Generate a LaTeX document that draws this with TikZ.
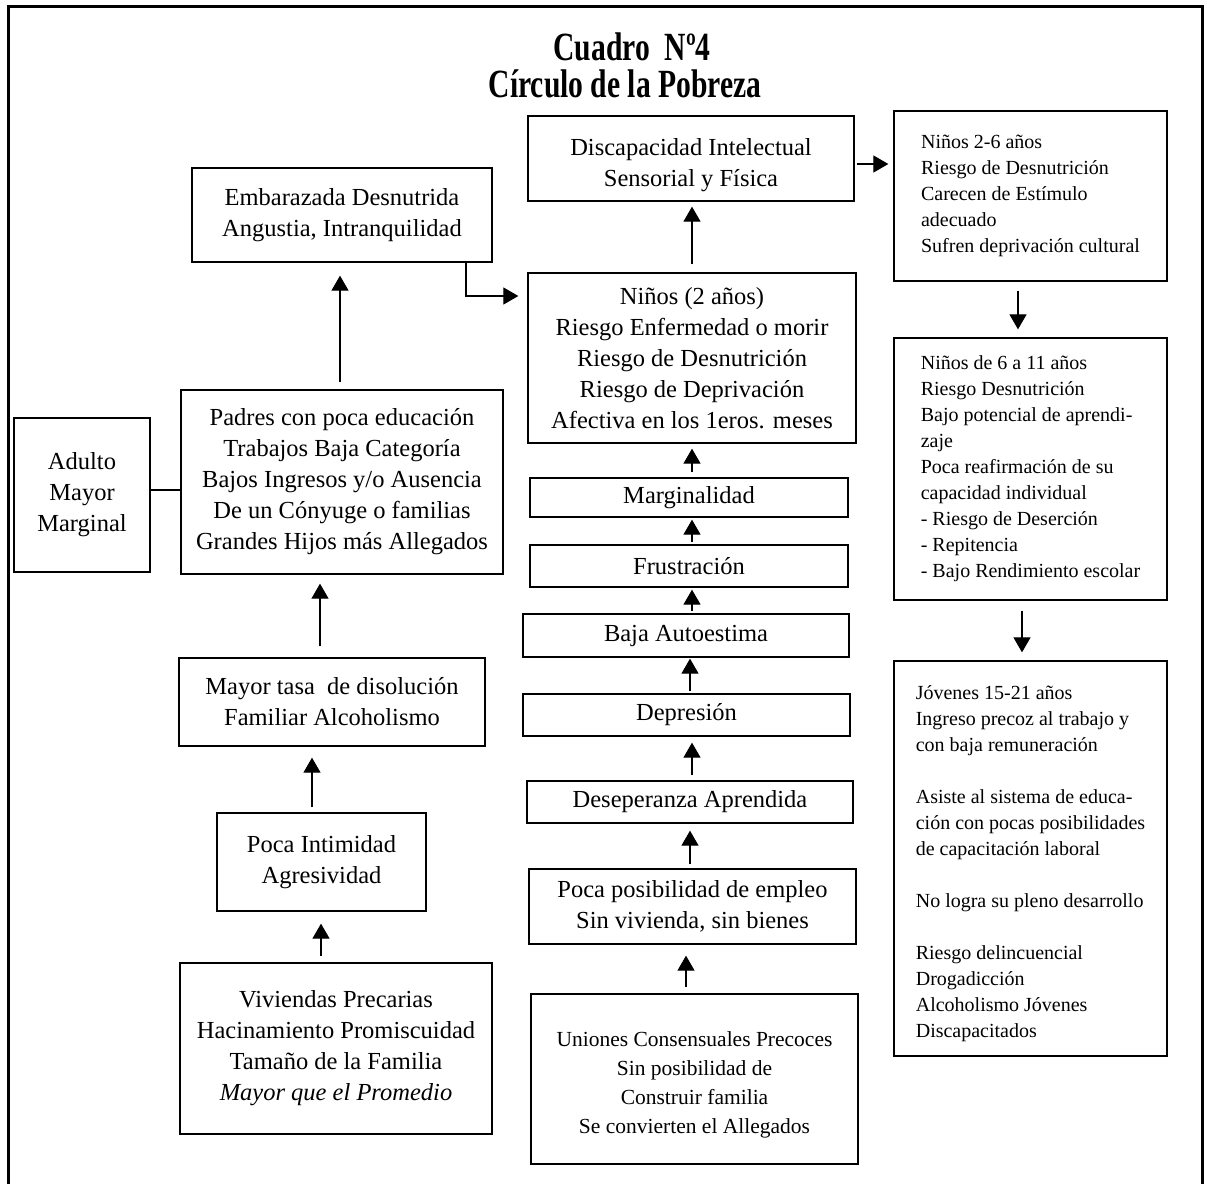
\documentclass[tikz,border=0pt]{standalone}
\usepackage{fontspec}
\usepackage{graphicx}
\setmainfont{Liberation Serif}
\usetikzlibrary{arrows.meta}
\newcommand{\MyBig}{\fontsize{24.5}{31}\selectfont}
\newcommand{\MyMid}{\fontsize{21.5}{29}\selectfont}
\newcommand{\MySmall}{\fontsize{20}{26}\selectfont}
\newcommand{\MyTitle}{\fontsize{40}{44}\selectfont\bfseries}
\begin{document}
\begin{tikzpicture}[x=1pt,y=-1pt,
  box/.style={draw, line width=1.3pt, inner sep=0pt, align=center, font=\MyBig},
  rbox/.style={draw, line width=1.3pt, inner sep=0pt, align=left, font=\MySmall, minimum width=273pt},
  arr/.style={line width=1.2pt, -{Triangle[length=15pt,width=17pt]}},
  link/.style={line width=1.2pt},
  ttl/.style={inner sep=0pt, anchor=base, font=\MyTitle}
]
\useasboundingbox (0,0) rectangle (1207,1183);
% outer frame
\draw[line width=3pt] (8,1190) -- (8,6) -- (1202,6) -- (1202,1190);

% titles
\node[ttl] (t1) at (632,60) {\scalebox{0.74}[1]{Cuadro\ \ Nº4}};
\node[ttl] (t2) at (625,97) {\scalebox{0.74}[1]{Círculo de la Pobreza}};

% middle column
\node[box, minimum width=326pt, minimum height=85pt] (disc) at (691,158.5) {\rule{0pt}{30pt}Discapacidad Intelectual\\Sensorial y Física};
\node[box, minimum width=328pt, minimum height=170pt] (ninos) at (692,358) {Niños (2 años)\\Riesgo Enfermedad o morir\\Riesgo de Desnutrición\\Riesgo de Deprivación\\Afectiva en los 1eros. meses};
\node[box, minimum width=318pt, minimum height=39pt] (marg) at (689,497.5) {Marginalidad};
\node[box, minimum width=318pt, minimum height=42pt] (frus) at (689,566) {Frustración};
\node[box, minimum width=326pt, minimum height=43pt] (baja) at (686,635.5) {Baja Autoestima};
\node[box, minimum width=327pt, minimum height=42pt] (depr) at (686.5,715) {Depresión};
\node[box, minimum width=326pt, minimum height=42pt] (desep) at (690,802) {Deseperanza Aprendida};
\node[box, minimum width=327pt, minimum height=75pt] (poca) at (692.5,906.5) {Poca posibilidad de empleo\\Sin vivienda, sin bienes};
\node[box, font=\MyMid, minimum width=327pt, minimum height=170pt] (union) at (694.5,1079) {\rule{0pt}{27pt}Uniones Consensuales Precoces\\Sin posibilidad de\\Construir familia\\Se convierten el Allegados};

% left column
\node[box, minimum width=300pt, minimum height=94pt] (emb) at (342,215) {Embarazada Desnutrida\\Angustia, Intranquilidad};
\node[box, minimum width=136pt, minimum height=154pt] (adulto) at (82,495) {Adulto\\Mayor\\Marginal};
\node[box, minimum width=322pt, minimum height=184pt] (padres) at (342,482) {Padres con poca educación\\Trabajos Baja Categoría\\Bajos Ingresos y/o Ausencia\\De un Cónyuge o familias\\Grandes Hijos más Allegados};
\node[box, minimum width=306pt, minimum height=88pt] (mayor) at (332,702) {Mayor tasa\ \ de disolución\\Familiar Alcoholismo};
\node[box, minimum width=209pt, minimum height=98pt] (intim) at (321.5,862) {Poca Intimidad\\Agresividad};
\node[box, minimum width=312pt, minimum height=171pt] (viv) at (336,1048.5) {Viviendas Precarias\\Hacinamiento Promiscuidad\\Tamaño de la Familia\\\textit{Mayor que el Promedio}};

% right column
\node[rbox, minimum height=170pt] (r1) at (1030.5,196) {Niños 2-6 años\\Riesgo de Desnutrición\\Carecen de Estímulo\\adecuado\\Sufren deprivación cultural};
\node[rbox, minimum height=262pt] (r2) at (1030.5,469) {Niños de 6 a 11 años\\Riesgo Desnutrición\\Bajo potencial de aprendi-\\zaje\\Poca reafirmación de su\\capacidad individual\\- Riesgo de Deserción\\- Repitencia\\- Bajo Rendimiento escolar};
\node[rbox, minimum height=395pt] (r3) at (1030.5,858.5) {\rule{0pt}{24pt}Jóvenes 15-21 años\\Ingreso precoz al trabajo y\\con baja remuneración\\[26pt]Asiste al sistema de educa-\\ción con pocas posibilidades\\de capacitación laboral\\[26pt]No logra su pleno desarrollo\\[26pt]Riesgo delincuencial\\Drogadicción\\Alcoholismo Jóvenes\\Discapacitados};

% connectors
\draw[arr, shorten <=7pt, shorten >=13pt] ([xshift=-2pt]padres.north) -- ([xshift=-2pt]emb.south);
\draw[arr, shorten >=9pt] ([xshift=124pt]emb.south) |- ([yshift=62pt]ninos.west);
\draw[arr, shorten <=8pt, shorten >=5pt] (ninos.north) -- ([xshift=1pt]disc.south);
\draw[arr, shorten <=2pt, shorten >=5pt] ([yshift=-5.5pt]disc.east) -- ([yshift=32pt]r1.west);
\draw[arr, shorten <=9pt, shorten >=8pt] ([xshift=-12.5pt]r1.south) -- ([xshift=-12.5pt]r2.north);
\draw[arr, shorten <=10pt, shorten >=8pt] ([xshift=-8.5pt]r2.south) -- ([xshift=-8.5pt]r3.north);
\draw[link] ([yshift=5pt]adulto.east) -- ([yshift=-8pt]padres.west);
\draw[arr, shorten <=11pt, shorten >=9pt] ([xshift=-12pt]mayor.north) -- ([xshift=-22pt]padres.south);
\draw[arr, shorten <=5pt, shorten >=11pt] ([xshift=-9.5pt]intim.north) -- ([xshift=-20pt]mayor.south);
\draw[arr, shorten <=6pt, shorten >=12pt] ([xshift=-15pt]viv.north) -- ([xshift=-0.5pt]intim.south);
\draw[arr, shorten <=6pt, shorten >=11pt] ([xshift=-8.5pt]union.north) -- ([xshift=-6.5pt]poca.south);
\draw[arr, shorten <=4pt, shorten >=7pt] ([xshift=-2.5pt]poca.north) -- (desep.south);
\draw[arr, shorten <=5pt, shorten >=6pt] ([xshift=2pt]desep.north) -- ([xshift=5.5pt]depr.south);
\draw[arr, shorten <=2pt, shorten >=1pt] ([xshift=3.5pt]depr.north) -- ([xshift=4pt]baja.south);
\draw[arr, shorten <=2pt, shorten >=2pt] ([xshift=6pt]baja.north) -- ([xshift=3pt]frus.south);
\draw[arr, shorten <=2pt, shorten >=2pt] ([xshift=3pt]frus.north) -- ([xshift=3pt]marg.south);
\draw[arr, shorten <=5pt, shorten >=5pt] ([xshift=3pt]marg.north) -- (ninos.south);
\end{tikzpicture}
\end{document}
